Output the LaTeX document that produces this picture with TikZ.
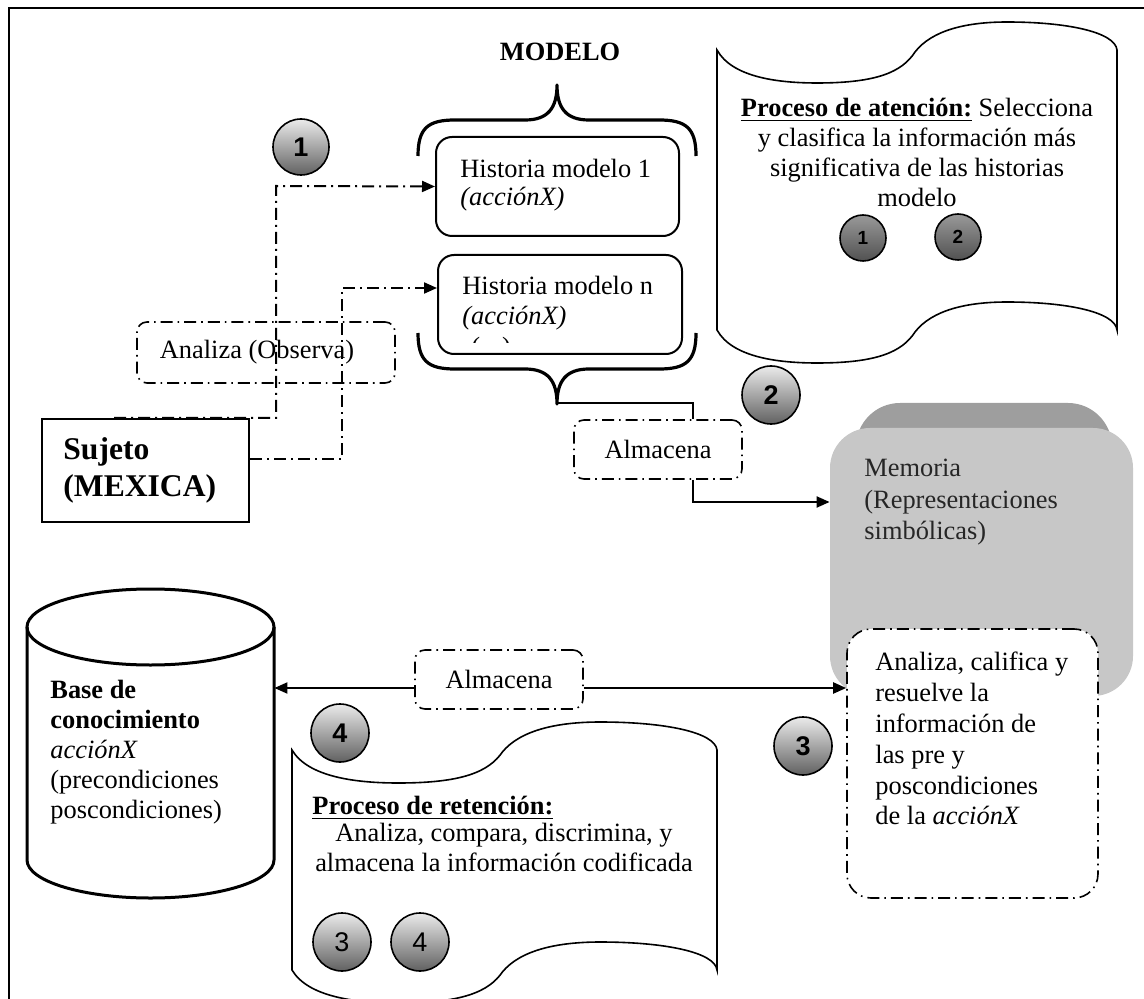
\documentclass[tikz,border=0pt]{standalone}
\usepackage{fontspec}
\setmainfont{Liberation Serif}
\setsansfont{Liberation Sans}
\usetikzlibrary{arrows.meta,calc}

\newcommand{\dfont}{\fontsize{13.2}{15}\selectfont}

\tikzset{
  txt/.style={inner sep=0pt, align=left},
  sol/.style={line width=1pt},
  dd/.style={line width=1pt, dash pattern=on 6pt off 2.5pt on 1pt off 2.5pt},
  ddbox/.style={draw, line width=0.8pt, rounded corners=5pt, inner sep=0pt,
    dash pattern=on 6pt off 2.5pt on 0.8pt off 2.5pt},
  arr/.style={-{Triangle[length=6.5pt,width=5.5pt]}},
  hbox/.style={draw, line width=1pt, rounded corners=8pt, inner sep=0pt},
  brace/.style={line width=1.6pt, line join=round},
  tape/.style={fill=white, draw, line width=0.8pt},
  badge/.style={circle, draw, line width=0.8pt, inner sep=0pt, minimum size=29pt,
    top color=black!8, bottom color=black!62,
    font=\sffamily\bfseries\fontsize{13.5}{13.5}\selectfont},
  rbadge/.style={badge, font=\sffamily\fontsize{13.5}{13.5}\selectfont},
  sbadge/.style={badge, minimum size=23pt, top color=black!40, bottom color=black!68,
    font=\sffamily\bfseries\fontsize{9.5}{9.5}\selectfont},
}

% wavy "tape" outline of width 400 and height #1, top-left corner at the origin
\newcommand{\tapeoutline}[1]{
  (0,0) .. controls (15,27) and (60,33) .. (100,33)
        .. controls (160,33) and (185,22) .. (198,2)
        .. controls (215,-20) and (250,-28) .. (290,-28)
        .. controls (350,-28) and (398,-18) .. (400,0)
  -- (400,#1)
        .. controls (398,{#1-18}) and (350,{#1-28}) .. (290,{#1-28})
        .. controls (250,{#1-28}) and (215,{#1-20}) .. (198,{#1+2})
        .. controls (185,{#1+22}) and (160,{#1+33}) .. (100,{#1+33})
        .. controls (60,{#1+33}) and (15,{#1+27}) .. (0,#1)
  -- cycle
}

\begin{document}
\begin{tikzpicture}[x=0.5pt, y=-0.5pt, every node/.style={font=\dfont}]
\useasboundingbox (0,0) rectangle (1144,999);

% outer frame (left and top sides)
\draw[line width=1pt] (9,999) -- (9,8) -- (1144,8);

% ---------- MODELO group ----------
\node[font=\dfont\bfseries] (modelo) at (560,52) {MODELO};

\draw[brace] (418,156) .. controls (418,128) and (428,120) .. (455,120) -- (525,120)
  .. controls (548,120) and (557,108) .. (557,85)
  .. controls (557,108) and (566,120) .. (589,120) -- (659,120)
  .. controls (686,120) and (696,128) .. (696,156);
\draw[brace] (418,333) .. controls (418,361) and (428,369) .. (455,369) -- (525,369)
  .. controls (548,369) and (557,381) .. (557,404)
  .. controls (557,381) and (566,369) .. (589,369) -- (659,369)
  .. controls (686,369) and (696,361) .. (696,333);

\node[hbox, minimum width=121.5pt, minimum height=49.5pt] (h1) at (557.5,186.5) {};
\node[txt, anchor=north west, font=\fontsize{13.2}{14}\selectfont] (h1t) at (460,159)
  {Historia modelo 1\\\textit{(acciónX)}};
\node[hbox, minimum width=122pt, minimum height=49.5pt] (hn) at (560,304.5) {};
\node[txt, anchor=north west] (hnt) at (462,276)
  {Historia modelo n\\\textit{(acciónX)}};
\begin{scope}
  \clip (465,336) rectangle (525,342.5);
  \node[txt, anchor=base west] (hncut) at (471,356) {(\hspace{11pt})};
\end{scope}

% ---------- subject and observation ----------
\node[draw, line width=1pt, minimum width=103.5pt, minimum height=51.5pt, inner sep=0pt]
  (sj) at (145.5,470.5) {};
\node[txt, anchor=north west, font=\fontsize{15.8}{18.5}\selectfont\bfseries] (sjt) at (63,437)
  {Sujeto\\(MEXICA)};

\node[ddbox, minimum width=129pt, minimum height=30.5pt] (obs) at (266,352.5) {};
\node (obst) at (257,352) {Analiza (Observa)};

\coordinate (k1) at (276,186);
\coordinate (k2) at (342,288);
\draw[dd, arr] (sj.north west) ++(73,0) -| (k1) -- (h1.west);
\draw[dd, arr] (sj.east) ++(0,-11.5) -| (k2) -- (k2 -| hn.west);

% ---------- attention process ----------
\begin{scope}[shift={(717,50)}]
  \path[tape] \tapeoutline{280};
\end{scope}
\node[txt, anchor=north, align=center] (att) at (917,98)
  {\underline{\textbf{Proceso de atención:}} Selecciona\\y clasifica la información más\\significativa de las historias\\modelo};
\node[sbadge] (s1) at (863,238) {1};
\node[sbadge] (s2) at (958,237) {2};

% ---------- memory (raised slab) ----------
\fill[black!38, rounded corners=22pt] (856,403) rectangle (1112,690);
\node[fill=black!22, rounded corners=20pt, minimum width=151.5pt, minimum height=134pt, inner sep=0pt]
  (mem) at (981.5,562) {};
\node[txt, anchor=north west, text=black!85, font=\fontsize{13.2}{15.6}\selectfont] (memt) at (864,459)
  {Memoria\\(Representaciones\\simbólicas)};

\node[ddbox, minimum width=84pt, minimum height=29.5pt] (am1) at (658,449.5) {Almacena};
\coordinate (bt) at (557,403);
\coordinate (k3) at (693,403);
\coordinate (y502) at (0,502);
\draw[sol] (bt) -- (k3) -- (k3 |- am1.north);
\draw[sol, arr] (k3 |- am1.south) |- (mem.west |- y502);

\node[badge, minimum size=28pt] (b1) at (301,147) {1};
\node[badge] (b2) at (771,395) {2};

% ---------- knowledge base ----------
\node[minimum width=123.5pt, minimum height=136pt, inner sep=0pt] (cyl) at (150.5,743.5) {};
\filldraw[fill=white, line width=1.5pt] (27,627) -- (27,860)
  arc[start angle=180, end angle=360, x radius=61.75pt, y radius=19pt] -- (274,627);
\draw[line width=1.5pt] (150.5,627) ellipse [x radius=61.75pt, y radius=19pt];
\node[txt, anchor=north west] (cylt) at (50,680)
  {\textbf{Base de}\\\textbf{conocimiento}\\\textit{acciónX}\\(precondiciones\\poscondiciones)};

% ---------- analysis of conditions ----------
\node[ddbox, fill=white, rounded corners=12pt, minimum width=125.5pt, minimum height=134.5pt]
  (an) at (972.5,763.5) {};
\node[txt, anchor=north west, font=\fontsize{13.2}{15.4}\selectfont] (ant) at (875,652)
  {Analiza, califica y\\resuelve la\\información de\\las pre y\\poscondiciones\\de la \textit{acciónX}};

\node[ddbox, minimum width=84pt, minimum height=29.5pt] (am2) at (499,679.5) {Almacena};
\coordinate (ly) at (499,688);
\draw[sol, arr] (am2.west |- ly) -- (cyl.east |- ly);
\draw[sol, arr] (am2.east |- ly) -- (an.west |- ly);

% ---------- retention process ----------
\begin{scope}[shift={(292,750)}, xscale=1.0625]
  \path[tape] \tapeoutline{220};
\end{scope}
\node[txt, anchor=north west] (rett) at (312,796) {\underline{\textbf{Proceso de retención:}}};
\node[txt, anchor=north, align=center] (retb) at (504,823)
  {Analiza, compara, discrimina, y\\almacena la información codificada};

\node[badge] (b3) at (803,746) {3};
\node[badge] (b4) at (340,733) {4};
\node[rbadge] (r3) at (342,942) {3};
\node[rbadge] (r4) at (420,942) {4};

\end{tikzpicture}
\end{document}
